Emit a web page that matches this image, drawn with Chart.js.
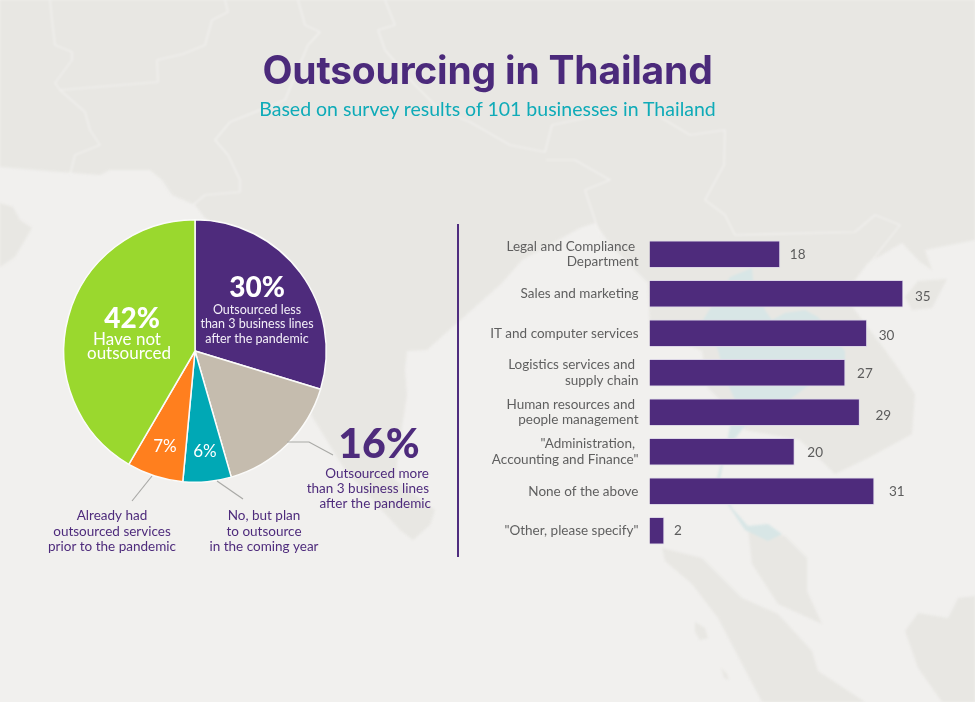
<!DOCTYPE html>
<html>
<head>
<meta charset="utf-8">
<title>Outsourcing in Thailand</title>
<script src="https://cdn.jsdelivr.net/npm/chart.js@4"></script>
<style>
  html, body { margin: 0; padding: 0; background: #f1f0ee; }
  #page { position: relative; width: 975px; height: 702px; overflow: hidden; }
  #map { position: absolute; left: 0; top: 0; filter: blur(1.2px); }
  h1, h2 { position: absolute; left: 0; width: 975px; margin: 0; text-align: center; white-space: nowrap; transform: translateZ(0); }
  h1 { top: 45px; font: 700 39px/50px Inter, sans-serif; color: #4b2a7b; letter-spacing: -0.2px; }
  h2 { top: 96px; font: 400 19.5px/26px Lato, sans-serif; color: #0fabb8; }
  #divider { position: absolute; left: 457px; top: 224px; width: 2px; height: 333px; background: #4f2d7f; }
  #pie { position: absolute; left: 0; top: 200px; }
  #bars { position: absolute; left: 470px; top: 230px; }
</style>
</head>
<body>
<div id="page">
  <!-- rough map behind the charts -->
  <svg id="map" width="975" height="702">
    <g fill="#e8e7e3">
      <path d="M0 0H975V240L925 250L932 270L920 262L902 243L868 263L855 280L842 293L885 350L898 368L915 394L912 434L868 458L835 474L800 440L745 430L728 408L708 388L702 351L650 330L648 283L632 267L612 247L595 223L580 228L522 260L502 283L457 323L427 350L407 351L405 370L407 395L400 440L395 480L435 510L430 525L413 540L400 530L345 470L313 418L290 370L240 240L205 218L195 205L172 195L162 180L150 170L110 170L100 175L60 172L0 167Z"/>
      <path d="M0 203L13 207L20 220L32 228L15 257L0 267Z"/>
      <path d="M905 297L918 281L947 279L932 308L912 310Z"/>
      <path d="M748 528L785 536L807 558L807 591L822 624L778 604L752 564Z"/>
      <path d="M662 548L702 558L742 598L778 614L812 651L818 671L865 702H762L718 618L692 584L665 561Z"/>
      <path d="M918 613L948 618L958 598L975 596V702H942L918 668L905 631Z"/>
      <path d="M695 622L705 628L708 638L700 640L695 632Z"/>
      <path d="M721 668L727 674L729 680L724 678Z"/>
    </g>
    <path fill="#d8e6e6" d="M730 277L752 268L753 280L765 310L772 320L785 313L805 310L818 317L845 351L845 361L818 378L792 398L745 426L725 451L717 478L732 508L748 526L768 524L782 534L768 541L745 530L718 490L735 400L725 378L718 350L703 320Z"/>
    <g fill="none" stroke="#f3f2f0" stroke-width="1.2" stroke-linejoin="round">
      <path d="M50 0L52 20L55 45L72 52L72 60L55 83L60 90L158 82L157 60L183 54L205 45L212 20L228 12L225 0"/>
      <path d="M60 90L85 112L90 130L100 145L75 155L70 175"/>
      <path d="M298 0L305 25L320 32L308 45L285 100L230 122L215 140L228 155L240 180L240 192L205 195L193 205"/>
      <path d="M385 0L395 25L378 30L385 50L415 85L440 110L470 122L510 145L545 152L552 125L600 115"/>
      <path d="M546 160L575 160L610 180L585 190L600 235"/>
      <path d="M660 117L690 135L725 130L724 165L705 200L725 215L735 235L855 232L875 215L900 225L870 263"/>
    </g>
  </svg>
  <h1>Outsourcing in Thailand</h1>
  <h2>Based on survey results of 101 businesses in Thailand</h2>
  <div id="divider"></div>
  <canvas id="pie" width="450" height="370"></canvas>
  <canvas id="bars" width="505" height="325"></canvas>
</div>
<script>
// pie, clockwise from the top (the survey percentages add up to 101)
var pieLabels = ['Outsourced less than 3 business lines after the pandemic', 'Outsourced more than 3 business lines after the pandemic', 'No, but plan to outsource in the coming year', 'Already had outsourced services prior to the pandemic', 'Have not outsourced'];
var pieValues = [30, 16, 6, 7, 42];
var pieColors = ['#4e2b7c', '#c5bcae', '#00a8b5', '#ff7f1e', '#9ad82e'];

// bars
var barLabels = [
  ['Legal and Compliance ', 'Department'],
  'Sales and marketing',
  'IT and computer services',
  ['Logistics services and ', 'supply chain'],
  ['Human resources and ', 'people management'],
  ['"Administration, ', 'Accounting and Finance"'],
  'None of the above',
  '"Other, please specify"'
];
var barValues = [18, 35, 30, 27, 29, 20, 31, 2];

var PURPLE = '#4e2b7c';
var FONT = 'Lato, sans-serif';

function textLine(ctx, str, x, y, size, weight, color, align) {
  ctx.font = weight + ' ' + size + 'px ' + FONT;
  ctx.fillStyle = color;
  ctx.textAlign = align || 'center';
  ctx.textBaseline = 'middle';
  ctx.fillText(str, x, y);
}

// the callouts of the pie; canvas sits 200px below the page top
var pieCallouts = {
  id: 'pieCallouts',
  afterDraw: function(chart) {
    var ctx = chart.ctx;
    ctx.save();

    ctx.strokeStyle = '#a9a9a6';
    ctx.lineWidth = 1.2;
    [[[287, 242], [309, 242], [333, 255]],
     [[152, 276], [132, 301]],
     [[217, 281], [243, 299]]].forEach(function(line) {
      ctx.beginPath();
      line.forEach(function(p, i) {
        if (i === 0) { ctx.moveTo(p[0], p[1]); } else { ctx.lineTo(p[0], p[1]); }
      });
      ctx.stroke();
    });

    textLine(ctx, '30%', 257, 87.5, 28, 900, '#fff');
    textLine(ctx, 'Outsourced less', 257, 109.5, 12.5, 400, '#f3eff8');
    textLine(ctx, 'than 3 business lines', 257, 124, 12.5, 400, '#f3eff8');
    textLine(ctx, 'after the pandemic', 257, 138.5, 12.5, 400, '#f3eff8');

    textLine(ctx, '42%', 132, 119, 28, 900, '#fff');
    textLine(ctx, 'Have not', 127, 139.5, 17, 400, '#fff');
    textLine(ctx, 'outsourced', 129, 154, 17, 400, '#fff');

    textLine(ctx, '7%', 165, 247, 17, 400, '#fff');
    textLine(ctx, '6%', 205, 252, 17, 400, '#fff');

    textLine(ctx, '16%', 379, 245, 41, 900, PURPLE);
    textLine(ctx, 'Outsourced more', 429, 274, 13.5, 400, PURPLE, 'right');
    textLine(ctx, 'than 3 business lines', 429, 289, 13.5, 400, PURPLE, 'right');
    textLine(ctx, 'after the pandemic', 431, 304, 13.5, 400, PURPLE, 'right');

    textLine(ctx, 'Already had', 112, 316, 13.5, 400, PURPLE);
    textLine(ctx, 'outsourced services', 112, 331.5, 13.5, 400, PURPLE);
    textLine(ctx, 'prior to the pandemic', 112, 347, 13.5, 400, PURPLE);

    textLine(ctx, 'No, but plan', 264, 316, 13.5, 400, PURPLE);
    textLine(ctx, 'to outsource', 264, 331.5, 13.5, 400, PURPLE);
    textLine(ctx, 'in the coming year', 264, 347, 13.5, 400, PURPLE);

    ctx.restore();
  }
};

new Chart(document.getElementById('pie').getContext('2d'), {
  type: 'pie',
  data: {
    labels: pieLabels,
    datasets: [{
      data: pieValues,
      backgroundColor: pieColors,
      borderColor: '#fbfbfa',
      borderWidth: 1.5,
      hoverOffset: 0
    }]
  },
  options: {
    responsive: false,
    animation: false,
    layout: { padding: { left: 63, right: 123, top: 19, bottom: 87 } },
    plugins: { legend: { display: false }, tooltip: { enabled: false } }
  },
  plugins: [pieCallouts]
});

// number next to each bar, the original has them a bit uneven
var barNumbers = {
  id: 'barNumbers',
  afterDatasetsDraw: function(chart) {
    var ctx = chart.ctx;
    var gapX = [10, 12, 12, 12, 16, 13, 15, 10];
    var gapY = [0, 3, 2, 1, 3, 1, 0, 0];
    ctx.save();
    chart.getDatasetMeta(0).data.forEach(function(bar, i) {
      textLine(ctx, String(barValues[i]), bar.x + gapX[i], bar.y + gapY[i], 13.5, 400, '#5c5c5c', 'left');
    });
    ctx.restore();
  }
};

new Chart(document.getElementById('bars').getContext('2d'), {
  type: 'bar',
  data: {
    labels: barLabels,
    datasets: [{
      data: barValues,
      backgroundColor: PURPLE,
      borderColor: '#dcd6e6',
      borderWidth: 1,
      barThickness: 27
    }]
  },
  options: {
    indexAxis: 'y',
    responsive: false,
    animation: false,
    layout: { padding: { top: 4.5, bottom: 4.5, right: 72, left: 0 } },
    scales: {
      x: { display: false, min: 0, max: 35 },
      y: {
        afterFit: function(scale) {
          scale.width = 179.5;
          // two line labels would otherwise squeeze the bands
          scale.paddingTop = 0;
          scale.paddingBottom = 0;
        },
        grid: { display: false, drawTicks: false },
        border: { display: false },
        ticks: {
          padding: 11,
          autoSkip: false,
          color: '#5f5f5f',
          font: { family: FONT, size: 13.5, lineHeight: 1.16 }
        }
      }
    },
    plugins: { legend: { display: false }, tooltip: { enabled: false } }
  },
  plugins: [barNumbers]
});
</script>
</body>
</html>
